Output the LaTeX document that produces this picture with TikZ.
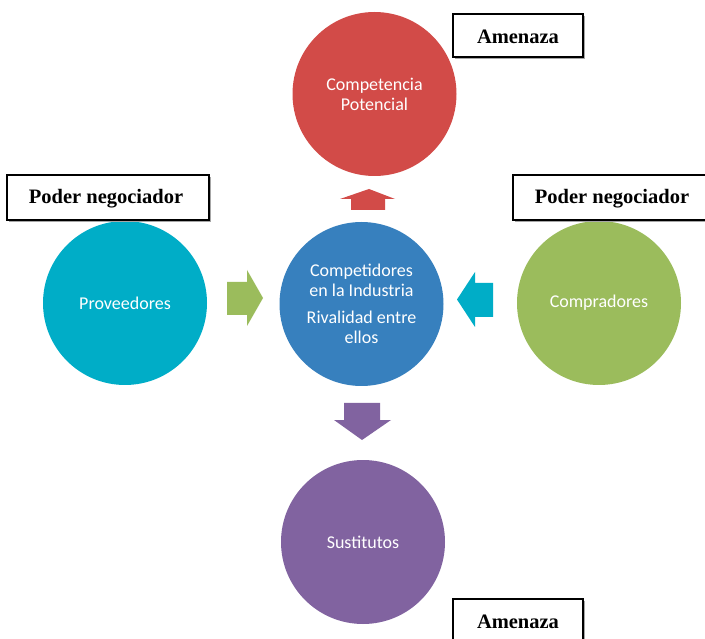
\documentclass[tikz,border=0pt]{standalone}
\usepackage{fontspec}
\setmainfont{Carlito}
\newfontfamily\labelfont{Liberation Serif}
\usetikzlibrary{shadows}
\definecolor{cred}{RGB}{210,75,72}
\definecolor{ccyan}{RGB}{0,173,199}
\definecolor{cblue}{RGB}{55,128,190}
\definecolor{cgreen}{RGB}{155,188,92}
\definecolor{cpurple}{RGB}{129,99,160}
\tikzset{
  ball/.style={circle, minimum size=164pt, inner sep=0pt, text=white, align=center,
    font=\fontsize{18}{20}\selectfont},
  lblbox/.style={draw=black, line width=1.3pt, fill=white,
    drop shadow={shadow xshift=1.6pt, shadow yshift=-1.6pt, fill=gray!70, opacity=1}},
  lbltext/.style={font=\labelfont\bfseries\fontsize{20.5}{22}\selectfont, inner sep=0pt}
}
\begin{document}
\begin{tikzpicture}[x=1pt,y=-1pt]
\useasboundingbox (0,0) rectangle (705,639);
\clip (0,0) rectangle (705,639);
\fill[white] (0,0) rectangle (705,639);
% circles
\node[ball, fill=cred] (pot) at (374.5,94) {Competencia\\Potencial};
\node[ball, fill=ccyan] (prov) at (125,303) {Proveedores};
\node[ball, fill=cblue] (ind) at (361.5,304) {Competidores\\en la Industria\\[7pt]Rivalidad entre\\ellos};
\node[ball, fill=cgreen] (comp) at (599,303) {Compradores};
\node[ball, fill=cpurple] (sus) at (363,542) {Sustitutos};
% block arrows
\fill[cred] (351,210) -- (351,199) -- (340,199) -- (369,189) -- (395,199) -- (385,199) -- (385,210) -- cycle;
\fill[cgreen] (227,282) -- (247,282) -- (247,270) -- (263,298) -- (247,326) -- (247,315) -- (227,315) -- cycle;
\fill[ccyan] (493,283) -- (475,283) -- (475,272) -- (457,299.5) -- (475,327) -- (475,317) -- (493,317) -- cycle;
\fill[cpurple] (344,403) -- (380,403) -- (380,420) -- (391,420) -- (362,440) -- (334,420) -- (344,420) -- cycle;
% label boxes
\draw[lblbox] (453,14) rectangle (583,57);
\node[lbltext] (am1) at (518,37) {Amenaza};
\draw[lblbox] (7,175) rectangle (209,220);
\node[lbltext] (pn1) at (106,199) {Poder negociador};
\draw[lblbox] (513,175) rectangle (712,220);
\node[lbltext] (pn2) at (612,199) {Poder negociador};
\draw[lblbox] (453,599) rectangle (583,650);
\node[lbltext] (am2) at (518,622) {Amenaza};
\end{tikzpicture}
\end{document}
